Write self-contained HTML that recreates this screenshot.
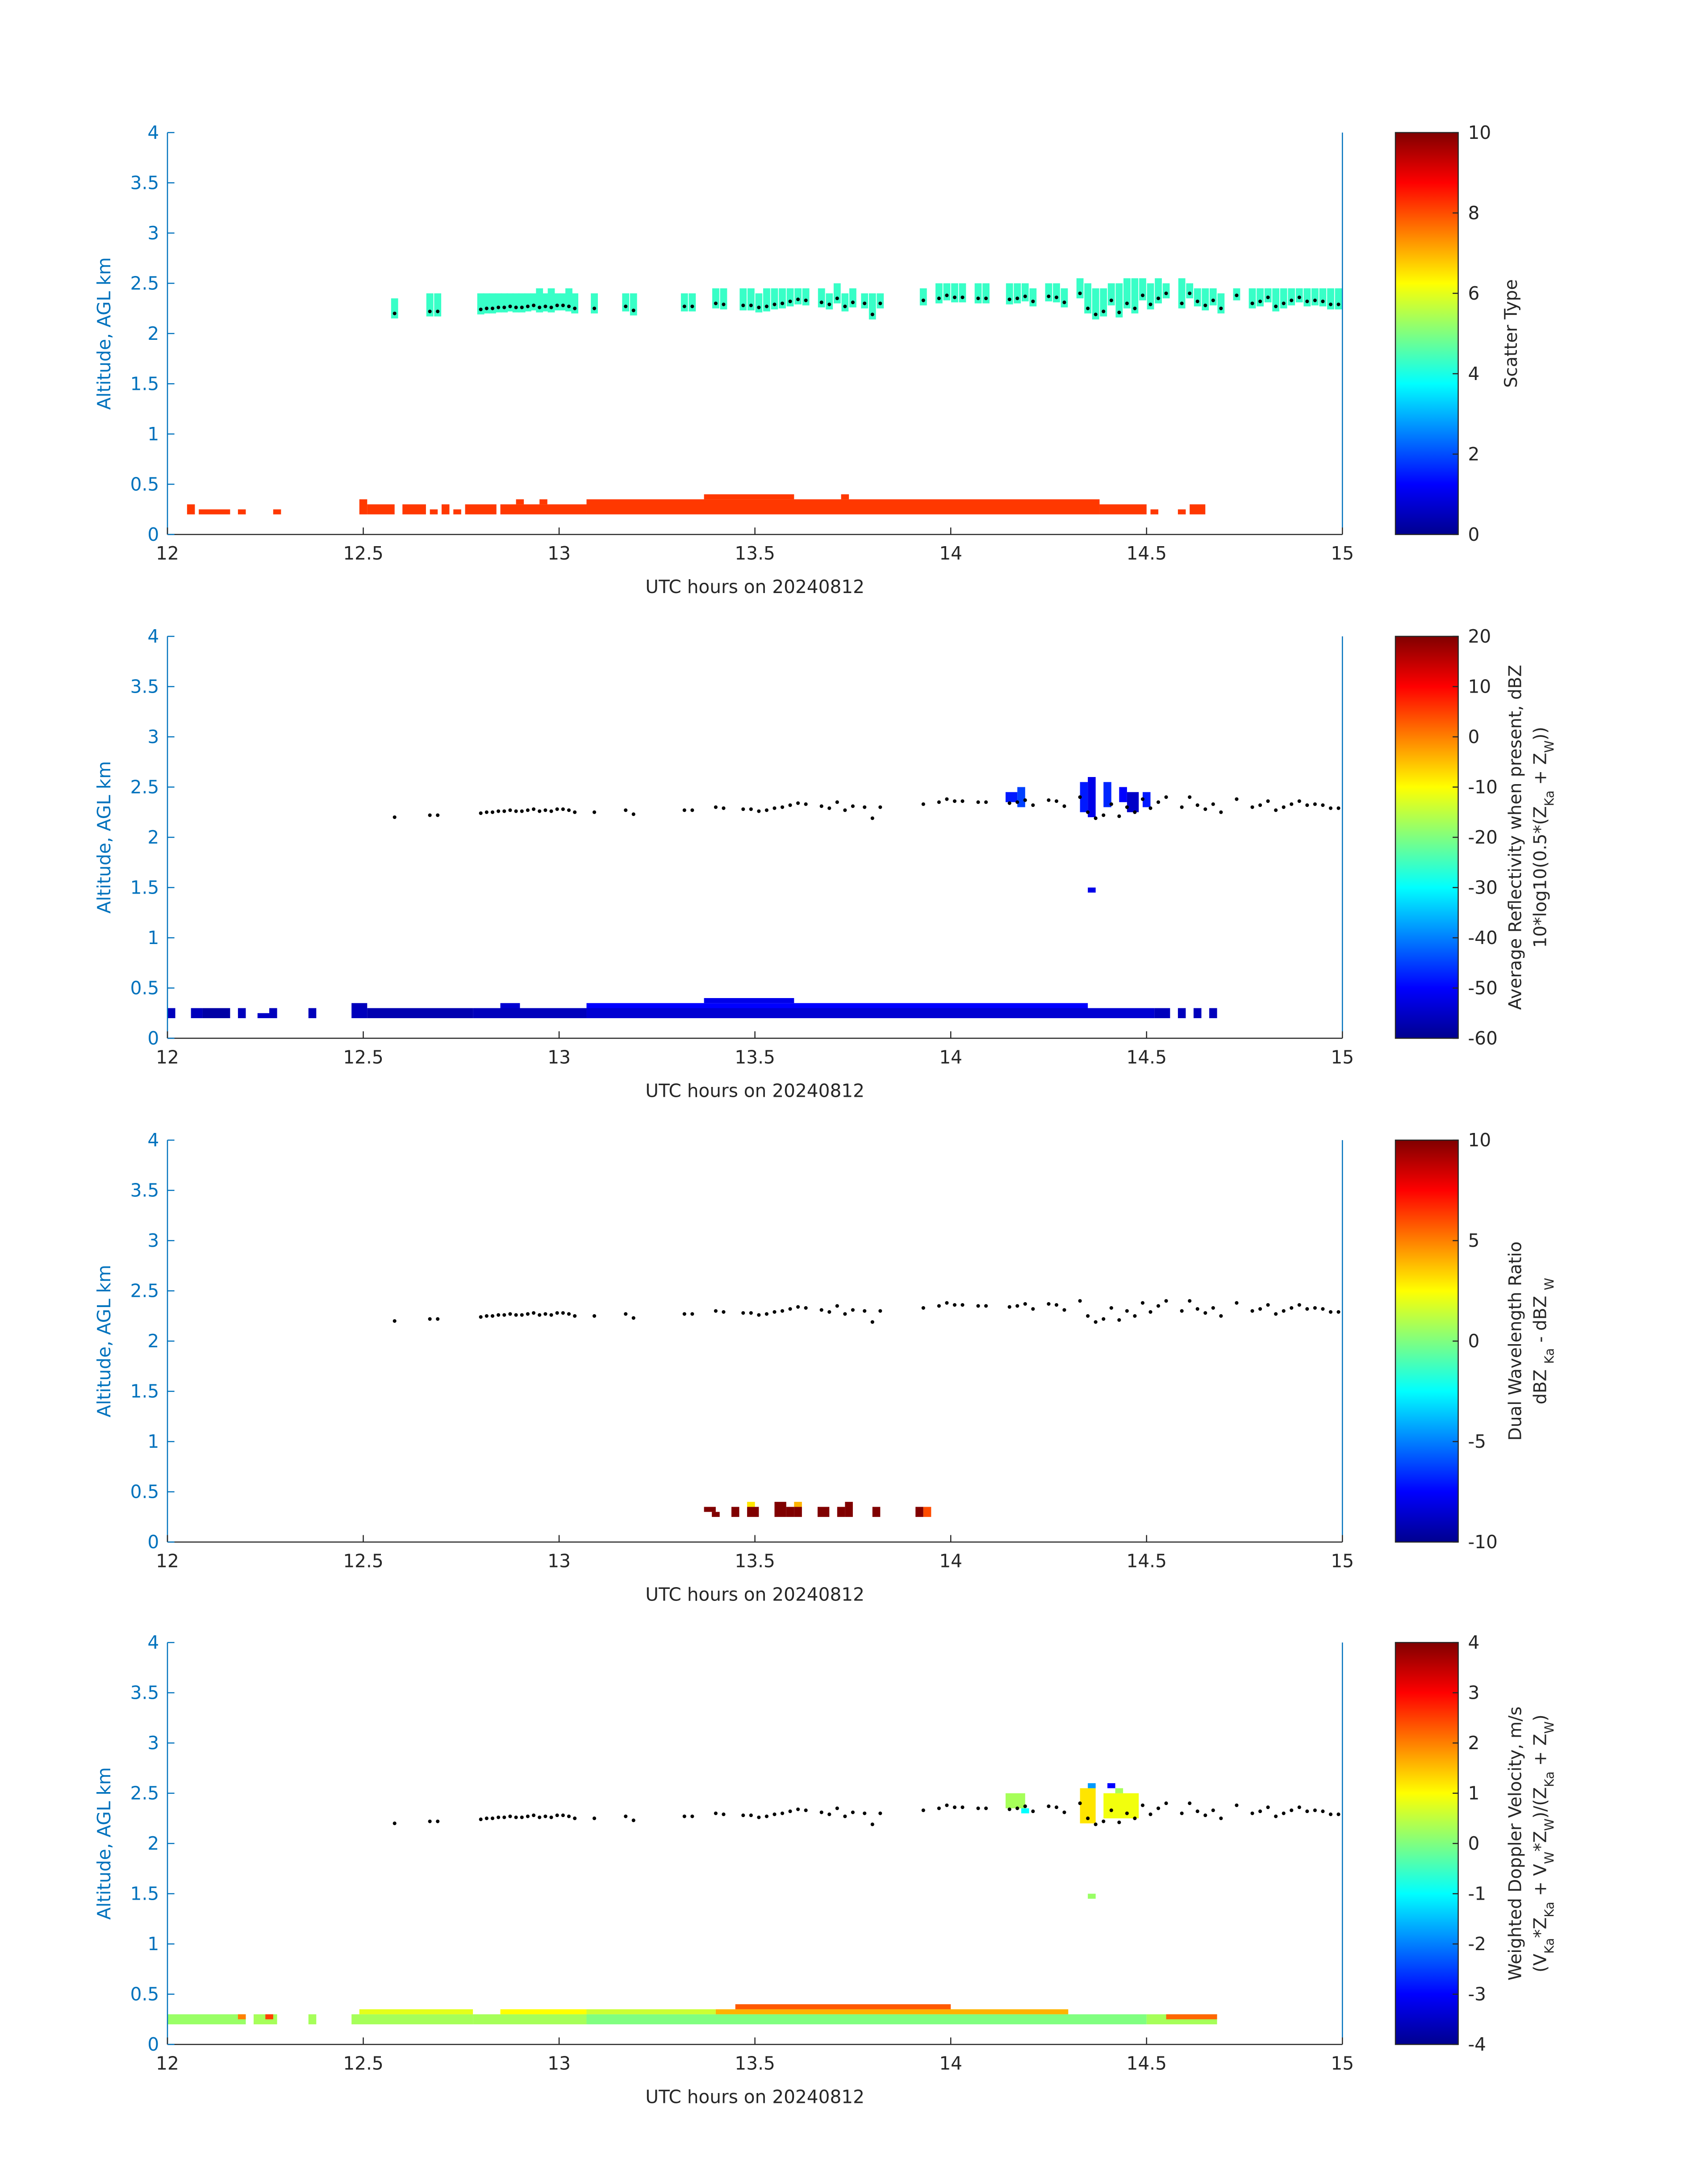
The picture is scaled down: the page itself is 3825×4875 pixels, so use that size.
<!DOCTYPE html>
<html><head><meta charset="utf-8"><style>
html,body{margin:0;padding:0;background:#fff}
svg{display:block}
text{font-family:"DejaVu Sans","Liberation Sans",sans-serif}
</style></head><body>
<svg id="fig" width="3825" height="4875" viewBox="0 0 1224 1560" xmlns="http://www.w3.org/2000/svg">
<defs>
<linearGradient id="jet" x1="0" y1="1" x2="0" y2="0">
<stop offset="0" stop-color="#00008f"/><stop offset="0.125" stop-color="#0000ff"/>
<stop offset="0.375" stop-color="#00ffff"/><stop offset="0.625" stop-color="#ffff00"/>
<stop offset="0.875" stop-color="#ff0000"/><stop offset="1" stop-color="#800000"/>
</linearGradient>
</defs>
</svg>
<script>
// ---- data ----
const dotT=[12.58,12.67,12.69,12.8,12.815,12.83,12.845,12.86,12.875,12.89,12.905,12.92,12.935,12.95,12.965,12.98,12.995,13.01,13.025,13.04,13.09,13.17,13.19,13.32,13.34,13.4,13.42,13.47,13.49,13.51,13.53,13.55,13.57,13.59,13.61,13.63,13.67,13.69,13.71,13.73,13.75,13.78,13.8,13.82,13.93,13.97,13.99,14.01,14.03,14.07,14.09,14.15,14.17,14.19,14.21,14.25,14.27,14.29,14.33,14.35,14.37,14.39,14.41,14.43,14.45,14.47,14.49,14.51,14.53,14.55,14.59,14.61,14.63,14.65,14.67,14.69,14.73,14.77,14.79,14.81,14.83,14.85,14.87,14.89,14.91,14.93,14.95,14.97,14.99];
const dotA=[2.2,2.22,2.22,2.24,2.25,2.25,2.26,2.26,2.27,2.26,2.26,2.27,2.28,2.26,2.27,2.26,2.28,2.28,2.27,2.25,2.25,2.27,2.23,2.27,2.27,2.3,2.29,2.28,2.28,2.26,2.27,2.29,2.3,2.32,2.34,2.33,2.31,2.29,2.35,2.27,2.31,2.3,2.19,2.3,2.33,2.35,2.38,2.36,2.36,2.35,2.35,2.34,2.35,2.37,2.32,2.37,2.36,2.31,2.4,2.25,2.19,2.22,2.33,2.21,2.3,2.25,2.38,2.29,2.35,2.4,2.3,2.4,2.32,2.28,2.33,2.25,2.38,2.3,2.32,2.36,2.27,2.3,2.33,2.36,2.32,2.33,2.32,2.29,2.29];
const cyanTop=[2.35,2.4,2.4,2.4,2.4,2.4,2.4,2.4,2.4,2.4,2.4,2.4,2.4,2.45,2.4,2.45,2.4,2.4,2.45,2.4,2.4,2.4,2.4,2.4,2.4,2.45,2.45,2.45,2.45,2.4,2.45,2.45,2.45,2.45,2.45,2.45,2.45,2.4,2.5,2.4,2.45,2.4,2.4,2.4,2.45,2.5,2.5,2.5,2.5,2.5,2.5,2.5,2.5,2.5,2.45,2.5,2.5,2.45,2.55,2.5,2.45,2.45,2.5,2.5,2.55,2.55,2.55,2.5,2.55,2.5,2.55,2.5,2.45,2.45,2.45,2.4,2.45,2.45,2.45,2.45,2.45,2.45,2.45,2.45,2.45,2.45,2.45,2.45,2.45];
// panel 1 low layer: [t0,t1,a0,a1,value]
const p1Low=[[12.05,12.07,0.2,0.3,8.2],[12.08,12.16,0.2,0.25,8.2],[12.18,12.2,0.2,0.25,8.2],[12.27,12.29,0.2,0.25,8.2],[12.49,12.51,0.2,0.35,8.2],[12.51,12.58,0.2,0.3,8.2],[12.6,12.66,0.2,0.3,8.2],[12.67,12.69,0.2,0.25,8.2],[12.7,12.72,0.2,0.3,8.2],[12.73,12.75,0.2,0.25,8.2],[12.76,12.84,0.2,0.3,8.2],[12.85,13.07,0.2,0.3,8.2],[12.89,12.91,0.3,0.35,8.2],[12.95,12.97,0.3,0.35,8.2],[13.07,14.38,0.2,0.35,8.2],[13.37,13.6,0.35,0.4,8.2],[13.72,13.74,0.35,0.4,8.2],[14.38,14.5,0.2,0.3,8.2],[14.51,14.53,0.2,0.25,8.2],[14.58,14.6,0.2,0.25,8.2],[14.61,14.65,0.2,0.3,8.2]];
const p2Cells=[[12.0,12.02,0.2,0.3,-56],[12.06,12.09,0.2,0.3,-56],[12.09,12.16,0.2,0.3,-58],[12.18,12.2,0.2,0.3,-56],[12.23,12.26,0.2,0.25,-55],[12.26,12.28,0.2,0.3,-56],[12.36,12.38,0.2,0.3,-56],[12.47,12.51,0.2,0.35,-56],[12.51,12.78,0.2,0.3,-57],[12.78,13.07,0.2,0.3,-56],[12.85,12.9,0.3,0.35,-54],[13.07,14.52,0.2,0.3,-54],[13.07,14.35,0.3,0.35,-50],[13.37,13.6,0.35,0.4,-52],[14.52,14.56,0.2,0.3,-56],[14.58,14.6,0.2,0.3,-56],[14.62,14.64,0.2,0.3,-56],[14.66,14.68,0.2,0.3,-56],[14.14,14.17,2.35,2.45,-48],[14.17,14.19,2.3,2.5,-45],[14.33,14.35,2.25,2.55,-48],[14.35,14.37,2.2,2.6,-52],[14.39,14.41,2.3,2.55,-47],[14.43,14.45,2.35,2.5,-50],[14.45,14.48,2.25,2.45,-55],[14.49,14.51,2.3,2.45,-48],[14.35,14.37,1.45,1.5,-52]];
const p3Cells=[[13.37,13.4,0.3,0.35,10],[13.39,13.41,0.25,0.3,10],[13.44,13.46,0.25,0.35,10],[13.48,13.5,0.35,0.4,3],[13.48,13.51,0.25,0.35,10],[13.55,13.58,0.25,0.4,10],[13.58,13.6,0.25,0.35,10],[13.6,13.62,0.35,0.4,4],[13.6,13.62,0.25,0.35,10],[13.66,13.69,0.25,0.35,10],[13.71,13.73,0.25,0.35,10],[13.73,13.75,0.25,0.4,10],[13.8,13.82,0.25,0.35,10],[13.91,13.93,0.25,0.35,10],[13.93,13.95,0.25,0.35,6]];
const p4Cells=[[12.0,12.2,0.2,0.3,0.2],[12.18,12.2,0.25,0.3,2],[12.22,12.28,0.2,0.3,0.3],[12.25,12.27,0.25,0.3,2.5],[12.36,12.38,0.2,0.3,0.3],[12.47,12.78,0.2,0.3,0.3],[12.49,12.78,0.3,0.35,0.8],[12.78,13.07,0.2,0.3,0.3],[12.85,13.07,0.3,0.35,1],[13.07,14.5,0.2,0.3,0.0],[13.07,13.4,0.3,0.35,0.6],[13.4,14.3,0.3,0.35,1.6],[13.45,14.0,0.35,0.4,2.3],[14.5,14.68,0.2,0.3,0.3],[14.55,14.68,0.25,0.3,2.2],[14.14,14.19,2.35,2.5,0.3],[14.18,14.2,2.3,2.35,-1],[14.33,14.37,2.2,2.55,1.2],[14.35,14.37,2.55,2.6,-1.8],[14.39,14.48,2.25,2.5,0.9],[14.42,14.44,2.5,2.55,0.3],[14.4,14.42,2.55,2.6,-3],[14.35,14.37,1.45,1.5,0.2]];
const xTicks=[12,12.5,13,13.5,14,14.5,15];
const xTickLabels=["12","12.5","13","13.5","14","14.5","15"];
const yTicks=[0,0.5,1,1.5,2,2.5,3,3.5,4];
const yTickLabels=["0","0.5","1","1.5","2","2.5","3","3.5","4"];
const cb1=[0,2,4,6,8,10], cb2=[-60,-50,-40,-30,-20,-10,0,10,20], cb3=[-10,-5,0,5,10], cb4=[-4,-3,-2,-1,0,1,2,3,4];

// ---- drawing ----
const NS="http://www.w3.org/2000/svg", svg=document.getElementById('fig');
function el(tag,attrs,parent,txt){const e=document.createElementNS(NS,tag);for(const k in attrs)e.setAttribute(k,attrs[k]);if(txt!==undefined)e.textContent=txt;(parent||svg).appendChild(e);return e;}
const L=120,R=962,H=288,tops=[95,456,817,1177];
const xs=t=>L+(t-12)*(R-L)/3;
function jet(f){f=Math.max(0,Math.min(1,f));const st=[[0,[0,0,143]],[0.125,[0,0,255]],[0.375,[0,255,255]],[0.625,[255,255,0]],[0.875,[255,0,0]],[1,[128,0,0]]];
for(let i=0;i<st.length-1;i++){if(f<=st[i+1][0]){const a=st[i],b=st[i+1],u=(f-a[0])/(b[0]-a[0]);return 'rgb('+a[1].map((c,j)=>Math.round(c+(b[1][j]-c)*u)).join(',')+')';}}return 'rgb(128,0,0)';}
const ranges=[[0,10],[-60,20],[-10,10],[-4,4]];
const cbTicks=[cb1,cb2,cb3,cb4];
const cbLabels=[["Scatter Type"],["Average Reflectivity when present, dBZ","10*log10(0.5*(Z<Ka> + Z<W>))"],["Dual Wavelength Ratio","dBZ <Ka> - dBZ <W>"],["Weighted Doppler Velocity, m/s","(V<Ka>*Z<Ka> + V<W>*Z<W>)/(Z<Ka> + Z<W>)"]];
function addLabel(g,str,x,y){
  const t=el('text',{x:x,y:y,'font-size':12.5,fill:'#262626','text-anchor':'middle',transform:'rotate(-90 '+x+' '+y+')'},g);
  str.split(/(<[^>]+>)/).forEach(p=>{if(!p)return;if(p[0]==='<'){el('tspan',{'baseline-shift':'sub','font-size':9},t,p.slice(1,-1));}else el('tspan',{},t,p);});
  return t;
}
for(let p=0;p<4;p++){
  const top=tops[p],bot=top+H,ys=a=>bot-a*H/4;
  const g=el('g',{});
  
  
  const [lo,hi]=ranges[p], col=v=>jet((v-lo)/(hi-lo));
  const cells=[null,p2Cells,p3Cells,p4Cells][p];
  if(p===0){
    p1Low.forEach(c=>{const r=el('rect',{x:xs(c[0]),y:ys(c[3]),width:xs(c[1])-xs(c[0]),height:ys(c[2])-ys(c[3]),fill:col(c[4])},g);
      });
    dotT.forEach((t,i)=>{if(t<12.55)return;const r=el('rect',{x:xs(t-0.009),y:ys(cyanTop[i]),width:xs(t+0.009)-xs(t-0.009),height:ys(dotA[i]-0.05)-ys(cyanTop[i]),fill:col(4.3)},g);
      });
  } else {
    cells.forEach(c=>{const r=el('rect',{x:xs(c[0]),y:ys(c[3]),width:xs(c[1])-xs(c[0]),height:ys(c[2])-ys(c[3]),fill:col(c[4])},g);
      });
  }
  dotT.forEach((t,i)=>{const d=el('circle',{cx:xs(t),cy:ys(dotA[i]),r:1.3,fill:'#000'},g);
    });
  const ax=el('line',{x1:L,y1:bot,x2:R,y2:bot,stroke:'#262626','stroke-width':0.8},g);
  
  const ay=el('line',{x1:L,y1:top,x2:L,y2:bot,stroke:'#0072BD','stroke-width':0.8},g);
  
  el('line',{x1:R,y1:top,x2:R,y2:bot,stroke:'#0072BD','stroke-width':0.8},g);
  xTicks.forEach((t,i)=>{el('line',{x1:xs(t),y1:bot,x2:xs(t),y2:bot-5,stroke:'#262626','stroke-width':0.8},g);
    const tx=el('text',{x:xs(t),y:bot+18,'font-size':13,fill:'#262626','text-anchor':'middle'},g,xTickLabels[i]);
    });
  yTicks.forEach((a,i)=>{el('line',{x1:L,y1:ys(a),x2:L+5,y2:ys(a),stroke:'#0072BD','stroke-width':0.8},g);
    const tx=el('text',{x:L-6,y:ys(a)+4.5,'font-size':13,fill:'#0072BD','text-anchor':'end'},g,yTickLabels[i]);
    });
  const xt=el('text',{x:(L+R)/2,y:bot+42,'font-size':13,fill:'#262626','text-anchor':'middle'},g,'UTC hours on 20240812');
  
  const yx=79,yy=(top+bot)/2;
  const yt=el('text',{x:yx,y:yy,'font-size':13,fill:'#0072BD','text-anchor':'middle',transform:'rotate(-90 '+yx+' '+yy+')'},g,'Altitude, AGL km');
  
  const cbx=1000,cbw=45;
  const cb=el('rect',{x:cbx,y:top,width:cbw,height:H,fill:'url(#jet)',stroke:'#262626','stroke-width':0.8},g);
  
  cbTicks[p].forEach(v=>{const yy2=bot-(v-lo)/(hi-lo)*H;
    el('line',{x1:cbx+cbw-4,y1:yy2,x2:cbx+cbw,y2:yy2,stroke:'#262626','stroke-width':0.8},g);
    const tx=el('text',{x:cbx+cbw+7,y:yy2+4.5,'font-size':13,fill:'#262626'},g,String(v));
    });
  const labs=cbLabels[p];
  if(labs.length===1){const t=addLabel(g,labs[0],1087,(top+bot)/2);}
  else{const t1=addLabel(g,labs[0],1090,(top+bot)/2);
    const t2=addLabel(g,labs[1],1108,(top+bot)/2);}
}
</script>
</body></html>
